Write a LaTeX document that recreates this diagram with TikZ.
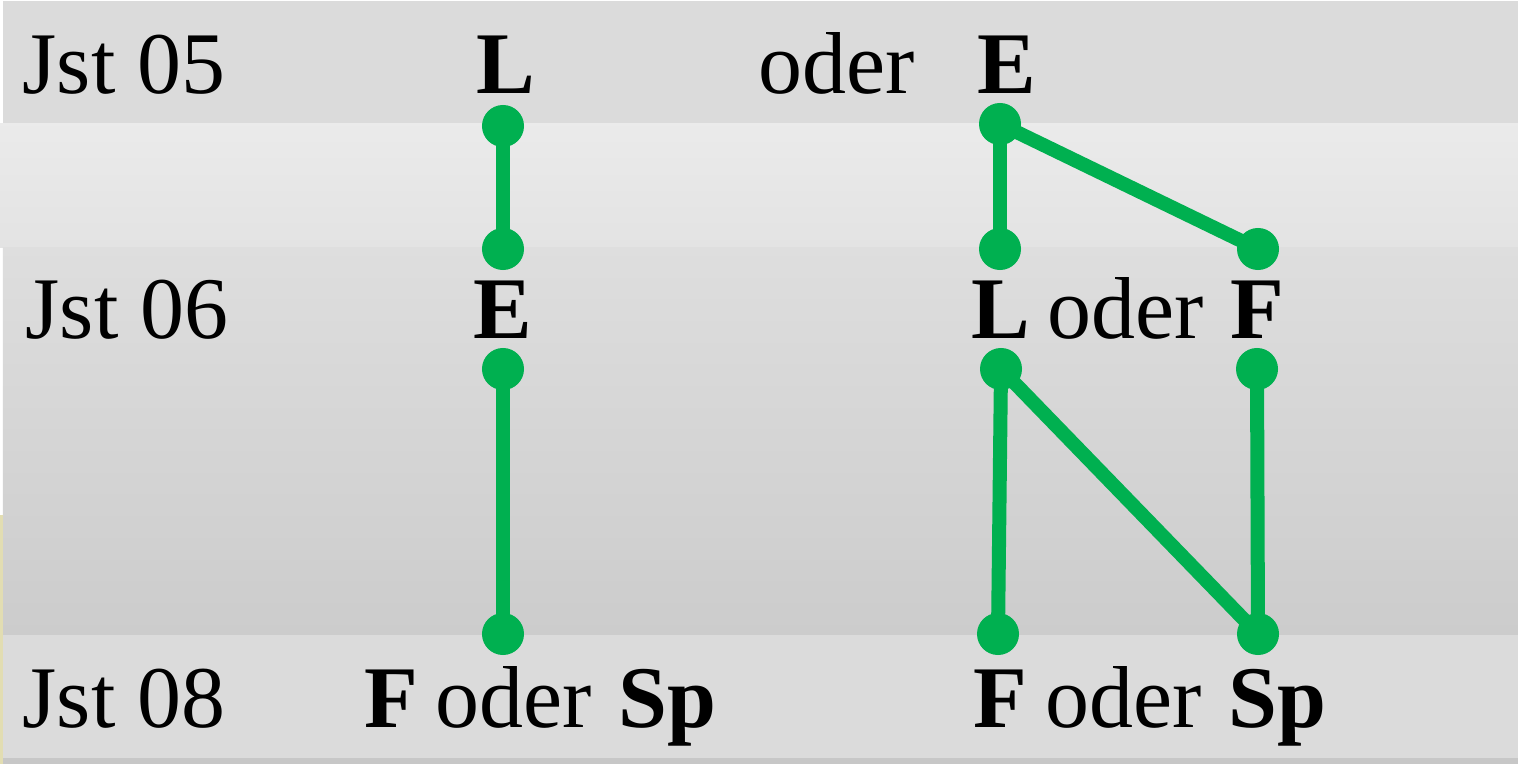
\documentclass[tikz,border=0pt]{standalone}
\usepackage{fontspec}
\setmainfont{Liberation Serif}
\usepackage{tikz}
\usetikzlibrary{positioning, calc}
\usepackage{xcolor}
\definecolor{leaf}{RGB}{0,176,80}
\definecolor{photo}{RGB}{226,221,178}

\begin{document}
\begin{tikzpicture}[x=0.01cm, y=-0.01cm,
  dot/.style={circle, fill=leaf, inner sep=0pt, minimum size=0.42cm},
  link/.style={draw=leaf, line width=0.14cm},
  txt/.style={inner sep=0pt, font=\fontsize{25}{30}\selectfont}]
\useasboundingbox (0,0) rectangle (1518,764);
% bands
\fill[white] (0,0) rectangle (1518,764);
\fill[gray!28] (3,1) rectangle (1518,124);
\shade[top color=black!8, bottom color=black!11] (0,124) rectangle (1518,248);
\shade[top color=black!13, bottom color=black!20] (3,248) rectangle (1518,635);
\fill[gray!28] (3,635) rectangle (1518,758);
\fill[black!22] (3,758) rectangle (1518,764);
\fill[photo] (0,515) rectangle (3,764);
% row labels
\node[txt, anchor=base west] (j05) at (22,94) {Jst 05};
\node[txt, anchor=base west] (j06) at (25,339) {Jst 06};
\node[txt, anchor=base west] (j08) at (22,727) {Jst 08};
% Jst 05
\node[txt, anchor=base] (l5) at (506,94) {\textbf{L}};
\node[txt, anchor=base west] (oder5) at (758,94) {oder};
\node[txt, anchor=base] (e5) at (1007,94) {\textbf{E}};
% Jst 06
\node[txt, anchor=base] (e6) at (503,339) {\textbf{E}};
\node[txt, anchor=base] (l6) at (1001,339) {\textbf{L}};
\node[txt, anchor=base west] (oder6) at (1047,339) {oder};
\node[txt, anchor=base] (f6) at (1257,339) {\textbf{F}};
% Jst 08
\node[txt, anchor=base] (fa) at (391,727) {\textbf{F}};
\node[txt, anchor=base west] (odera) at (435,727) {oder};
\node[txt, anchor=base west] (spa) at (618,727) {\textbf{Sp}};
\node[txt, anchor=base] (fb) at (1000,727) {\textbf{F}};
\node[txt, anchor=base west] (oderb) at (1045,727) {oder};
\node[txt, anchor=base west] (spb) at (1228,727) {\textbf{Sp}};
% dots
\node[dot] (d1) at (503,126) {};
\node[dot] (d2) at (503,249) {};
\node[dot] (d3) at (1000,124) {};
\node[dot] (d4) at (1000,249) {};
\node[dot] (d5) at (1258,249) {};
\node[dot] (d6) at (503,369) {};
\node[dot] (d7) at (503,634) {};
\node[dot] (d8) at (1001,369) {};
\node[dot] (d9) at (998,634) {};
\node[dot] (d10) at (1257,369) {};
\node[dot] (d11) at (1258,634) {};
% links
\draw[link] (d1.center) -- (d2.center);
\draw[link] (d3.center) -- (d4.center);
\draw[link] (d3.center) -- (d5.center);
\draw[link] (d6.center) -- (d7.center);
\draw[link] (d8.center) -- (d9.center);
\draw[link] (d8.center) -- (d11.center);
\draw[link] (d10.center) -- (d11.center);
\end{tikzpicture}
\end{document}
